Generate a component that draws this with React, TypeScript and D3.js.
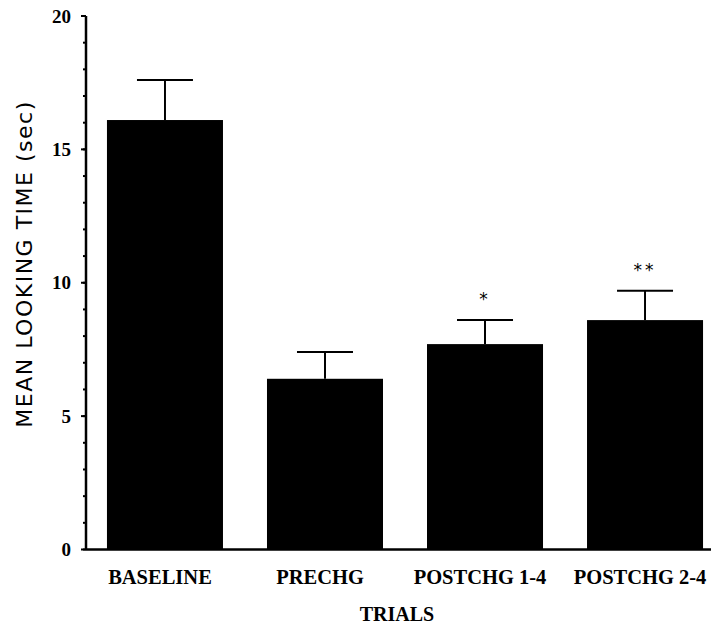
import * as d3 from "d3";

const categories = ["BASELINE", "PRECHG", "POSTCHG 1-4", "POSTCHG 2-4"];
const means = [16.1, 6.4, 7.7, 8.6];
const errorTops = [17.6, 7.4, 8.6, 9.7];
const marks = ["", "", "*", "**"];
const majorTicks = [0, 5, 10, 15, 20];
const minorTicks = d3.range(0, 21);

const width = 711;
const height = 629;

const App = () => {
  const x = d3
    .scaleBand<string>()
    .domain(categories)
    .range([86, 724])
    .paddingInner(0.275)
    .paddingOuter(0.131);
  const y = d3.scaleLinear().domain([0, 20]).range([549.5, 16]);
  const serif = "'Liberation Serif', 'Times New Roman', serif";
  const sans = "'DejaVu Sans', sans-serif";

  return (
    <svg
      width={width}
      height={height}
      style={{ position: "absolute", left: 0, top: 0, background: "#fff" }}
    >
      {categories.map((c, i) => {
        const bx = x(c) ?? 0;
        const cx = bx + x.bandwidth() / 2;
        return (
          <g key={c}>
            <line
              x1={cx}
              x2={cx}
              y1={y(means[i])}
              y2={y(errorTops[i])}
              stroke="#000"
              strokeWidth={2}
            />
            <line
              x1={cx - 28}
              x2={cx + 28}
              y1={y(errorTops[i])}
              y2={y(errorTops[i])}
              stroke="#000"
              strokeWidth={2}
            />
            <rect
              x={bx}
              y={y(means[i])}
              width={x.bandwidth()}
              height={y(0) - y(means[i])}
              fill="#000"
            />
            {marks[i] && (
              <text
                x={cx}
                y={y(errorTops[i]) - 15}
                textAnchor="middle"
                fontFamily={sans}
                fontSize={17}
                letterSpacing={3}
              >
                {marks[i]}
              </text>
            )}
            {/* category labels sit a little left of the bar centres */}
            <text
              x={cx - 5}
              y={584}
              textAnchor="middle"
              fontFamily={serif}
              fontWeight="bold"
              fontSize={20.5}
            >
              {c}
            </text>
          </g>
        );
      })}
      <line x1={86} x2={711} y1={y(0)} y2={y(0)} stroke="#000" strokeWidth={2.5} />
      <line x1={86} x2={86} y1={y(0)} y2={y(20)} stroke="#000" strokeWidth={2.5} />
      {minorTicks.map((t) => (
        <line key={"m" + t} x1={83} x2={86} y1={y(t)} y2={y(t)} stroke="#000" strokeWidth={2} />
      ))}
      {majorTicks.map((t) => (
        <g key={"t" + t}>
          <line x1={81} x2={86} y1={y(t)} y2={y(t)} stroke="#000" strokeWidth={2} />
          <text
            x={71}
            y={y(t)}
            dy="0.35em"
            textAnchor="end"
            fontFamily={serif}
            fontWeight="bold"
            fontSize={19}
          >
            {t}
          </text>
        </g>
      ))}
      <text
        transform="translate(32,264) rotate(-90)"
        textAnchor="middle"
        fontFamily={sans}
        fontSize={22}
        letterSpacing={1.5}
      >
        MEAN LOOKING TIME (sec)
      </text>
      <text
        x={397}
        y={621}
        textAnchor="middle"
        fontFamily={serif}
        fontWeight="bold"
        fontSize={20}
      >
        TRIALS
      </text>
    </svg>
  );
};

export default App;
